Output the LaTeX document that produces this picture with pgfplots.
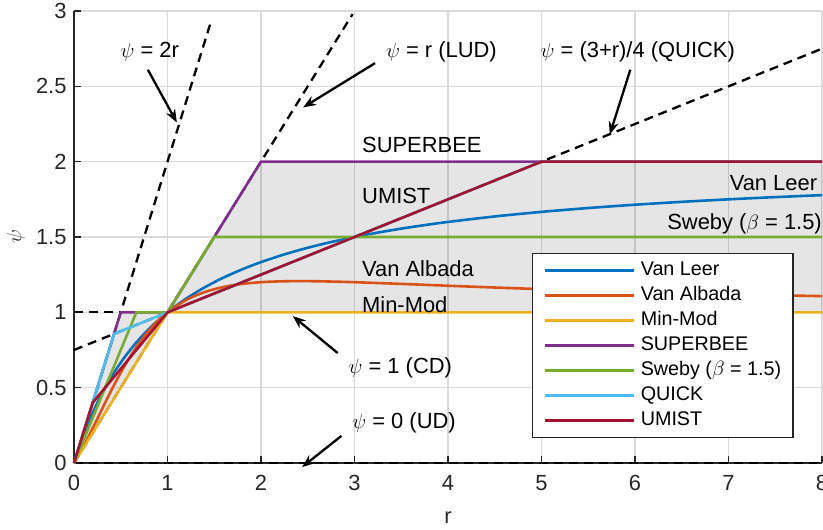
\documentclass[border=0pt]{standalone}
\usepackage{pgfplots}
\pgfplotsset{compat=1.18}
\usepackage{fontspec}
\setmainfont{Liberation Sans}
\usetikzlibrary{arrows.meta}

% limiter colours
\definecolor{vanleer}{RGB}{0,114,189}
\definecolor{albada}{RGB}{217,83,25}
\definecolor{minmod}{RGB}{237,177,32}
\definecolor{superbee}{RGB}{126,47,142}
\definecolor{sweby}{RGB}{119,172,48}
\definecolor{quick}{RGB}{77,190,238}
\definecolor{umist}{RGB}{162,20,47}
\definecolor{axgray}{RGB}{38,38,38}

\newcommand{\annfont}{\fontsize{22}{26}\selectfont}

\begin{document}
\begin{tikzpicture}[
  refline/.style={black, line width=2.3bp, dash pattern=on 9bp off 6bp},
  callout/.style={black, line width=2.3bp, -{Stealth[length=13bp,width=10bp]}},
  lbl/.style={font=\annfont, inner sep=0pt},
]
\begin{axis}[
  scale only axis, width=748bp, height=452bp,
  xmin=0, xmax=8, ymin=0, ymax=3,
  xtick={0,1,...,8}, ytick={0,0.5,...,3},
  axis x line*=bottom, axis y line*=left,
  axis line style={axgray, line width=1.5bp},
  tick align=inside, major tick length=7.5bp,
  tick style={axgray, line width=1.3bp},
  grid=major, grid style={black!14, line width=1.6bp},
  /pgf/number format/assume math mode=true,
  tick label style={font=\fontsize{22}{26}\selectfont, text=axgray},
  xticklabel style={yshift=-9bp},
  yticklabel style={xshift=-4bp},
  xlabel={r}, ylabel={$\psi$},
  label style={font=\fontsize{22}{26}\selectfont, text=axgray},
  xlabel style={at={(axis description cs:0.5,-0.1217)}, anchor=center},
  ylabel style={at={(axis description cs:-0.0775,0.5)}, anchor=center},
  clip=false,
  every axis plot/.append style={line width=2.6bp},
  legend cell align=left,
  legend image code/.code={\draw[#1, line width=2.4bp] (0bp,0bp) -- (89bp,0bp);},
  legend style={
    at={(0.612,0.4646)}, anchor=north west,
    draw=axgray, line width=1.3bp,
    font=\fontsize{19.8}{23}\selectfont,
    inner xsep=11bp, inner ysep=7bp,
    row sep=5bp, column sep=5bp,
    nodes={inner sep=1bp, text height=14bp, text depth=4bp},
  },
]
\coordinate (BL) at (rel axis cs:0,0);
\coordinate (TR) at (rel axis cs:1,1);

% TVD region between Min-Mod and SUPERBEE
\addplot[draw=none, fill=black, fill opacity=0.1, forget plot]
  coordinates {(0,0) (0.5,1) (1,1) (2,2) (8,2) (8,1) (1,1) (0,0)} -- cycle;

% reference lines
\addplot[refline, forget plot] coordinates {(0,0) (1.47,2.94)};
\addplot[refline, forget plot] coordinates {(0,0) (2.98,2.98)};
\addplot[refline, forget plot] coordinates {(0,0.75) (8,2.75)};
\addplot[refline, forget plot] coordinates {(0,1) (8,1)};
\addplot[refline, forget plot] coordinates {(0,0) (8,0)};

% limiters
\addplot[vanleer, smooth] coordinates {
  (0,0) (0.05,0.0952) (0.1,0.1818) (0.15,0.2609) (0.2,0.3333) (0.25,0.4)
  (0.3,0.4615) (0.35,0.5185) (0.4,0.5714) (0.45,0.6207) (0.5,0.6667)
  (0.55,0.7097) (0.6,0.75) (0.65,0.7879) (0.7,0.8235) (0.75,0.8571)
  (0.8,0.8889) (0.85,0.9189) (0.9,0.9474) (0.95,0.9744) (1,1)
  (1.1,1.0476) (1.2,1.0909) (1.3,1.1304) (1.4,1.1667) (1.5,1.2)
  (1.6,1.2308) (1.8,1.2857) (2,1.3333) (2.25,1.3846) (2.5,1.4286)
  (2.75,1.4667) (3,1.5) (3.25,1.5294) (3.5,1.5556) (3.75,1.5789)
  (4,1.6) (4.5,1.6364) (5,1.6667) (5.5,1.6923) (6,1.7143)
  (6.5,1.7333) (7,1.75) (7.5,1.7647) (8,1.7778)};
\addlegendentry{Van Leer}

\addplot[albada, smooth] coordinates {
  (0,0) (0.05,0.0524) (0.1,0.1089) (0.15,0.1687) (0.2,0.2308) (0.25,0.2941)
  (0.3,0.3578) (0.35,0.4209) (0.4,0.4828) (0.45,0.5426) (0.5,0.6)
  (0.6,0.7059) (0.7,0.7987) (0.8,0.8780) (0.9,0.9448) (1,1)
  (1.2,1.0820) (1.4,1.1351) (1.6,1.1685) (1.8,1.1887) (2,1.2)
  (2.2,1.2055) (2.4,1.2071) (2.6,1.2062) (2.8,1.2036) (3,1.2)
  (3.5,1.1887) (4,1.1765) (4.5,1.1647) (5,1.1538) (5.5,1.1440)
  (6,1.1351) (6.5,1.1272) (7,1.12) (7.5,1.1135) (8,1.1077)};
\addlegendentry{Van Albada}

\addplot[minmod] coordinates {(0,0) (1,1) (8,1)};
\addlegendentry{Min-Mod}

\addplot[superbee] coordinates {(0,0) (0.5,1) (1,1) (2,2) (8,2)};
\addlegendentry{SUPERBEE}

\addplot[sweby] coordinates {(0,0) (0.6667,1) (1,1) (1.5,1.5) (8,1.5)};
\addlegendentry{Sweby ($\beta$ = 1.5)}

\addplot[quick] coordinates {(0,0) (0.4286,0.8571) (5,2) (8,2)};
\addlegendentry{QUICK}

\addplot[umist] coordinates {(0,0) (0.2,0.4) (1,1) (5,2) (8,2)};
\addlegendentry{UMIST}

% curve names
\node[lbl, anchor=west] at (axis cs:3.08,2.11) {SUPERBEE};
\node[lbl, anchor=west] at (axis cs:3.08,1.77) {UMIST};
\node[lbl, anchor=west] at (axis cs:3.08,1.29) {Van Albada};
\node[lbl, anchor=west] at (axis cs:3.08,1.05) {Min-Mod};
\node[lbl, anchor=east] at (axis cs:7.95,1.86) {Van Leer};
\node[lbl, anchor=east] at (axis cs:8.0,1.59) {Sweby ($\beta$ = 1.5)};

% reference-line callouts
\node[lbl] at (axis cs:0.81,2.73) {$\psi$ = 2r};
\draw[callout] (axis cs:0.79,2.61) -- (axis cs:1.10,2.26);
\node[lbl] at (axis cs:3.93,2.73) {$\psi$ = r (LUD)};
\draw[callout] (axis cs:3.22,2.654) -- (axis cs:2.45,2.36);
\node[lbl] at (axis cs:6.03,2.73) {$\psi$ = (3+r)/4 (QUICK)};
\draw[callout] (axis cs:5.95,2.61) -- (axis cs:5.73,2.18);
\node[lbl] at (axis cs:3.49,0.63) {$\psi$ = 1 (CD)};
\draw[callout] (axis cs:2.82,0.73) -- (axis cs:2.34,0.975);
\node[lbl] at (axis cs:3.53,0.265) {$\psi$ = 0 (UD)};
\draw[callout] (axis cs:2.86,0.18) -- (axis cs:2.44,-0.027);
\end{axis}
\pgfresetboundingbox
\path[use as bounding box] ([shift={(-74bp,-66bp)}]BL) rectangle ([shift={(1bp,11bp)}]TR);
\end{tikzpicture}
\end{document}
